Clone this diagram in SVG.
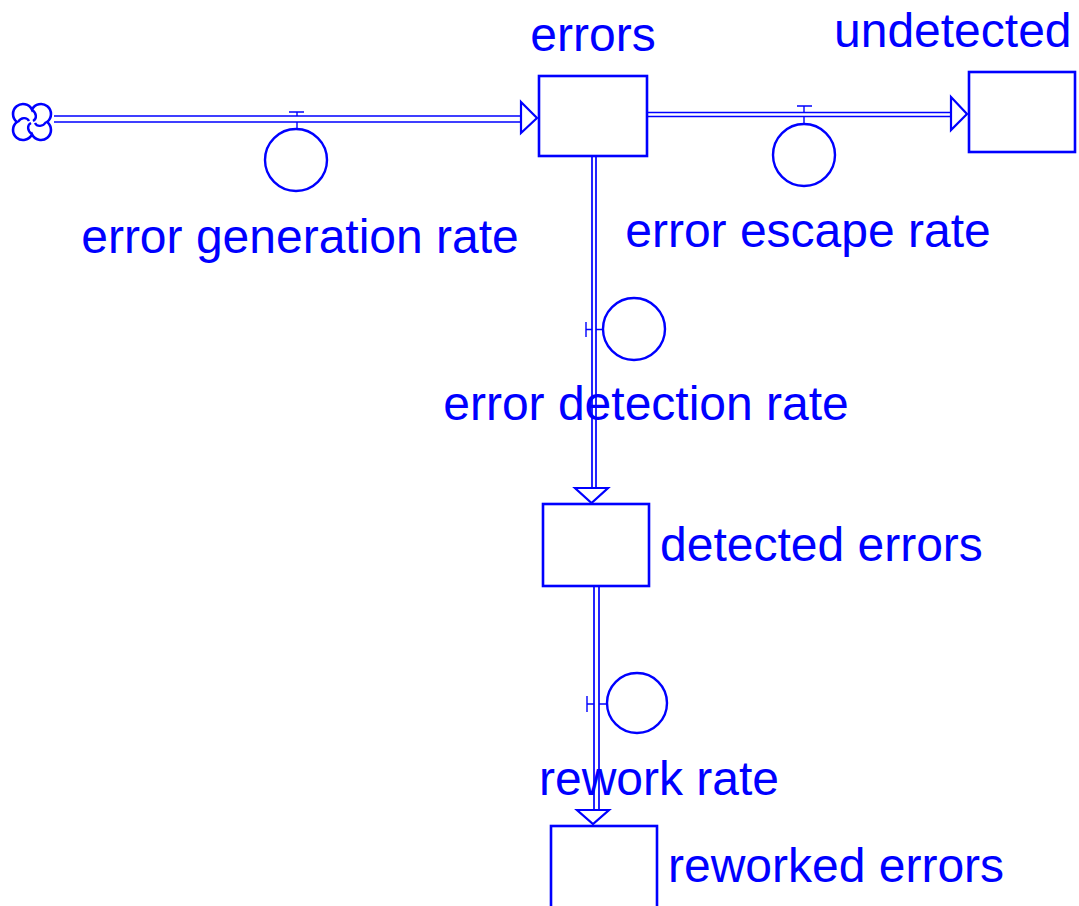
<svg xmlns="http://www.w3.org/2000/svg" width="1079" height="906" viewBox="0 0 1079 906">
<style>
.lbl{font-family:"Liberation Sans",Arial,sans-serif;font-size:48px;fill:#0000ff}
.stock{fill:#fff;stroke:#0000ff;stroke-width:2.6}
.aux{fill:#fff;stroke:#0000ff;stroke-width:2.4}
.pipe{stroke:#0000ff;stroke-width:1.7;fill:none}
.head{fill:#fff;stroke:#0000ff;stroke-width:2.2;stroke-linejoin:miter}
.tick{stroke:#0000ff;stroke-width:1.4;fill:none}
</style>
<rect width="1079" height="906" fill="#fff"/>
<g id="cloud">
<path d="M32,109.6 A10,10 0 1 1 47,122 A10,10 0 1 1 32,134.4 A10,10 0 1 1 17,122 A10,10 0 1 1 32,109.6 Z" fill="#fff" stroke="#0000ff" stroke-width="2.6"/>
<path d="M32,110 C37,113 37,119 33,121 M46,122 C43,127 37,127 35,123 M32,134 C27,131 27,125 31,123 M18,122 C21,117 27,117 29,121" fill="none" stroke="#0000ff" stroke-width="2.4"/>
</g>
<g id="labels">
<text class="lbl" x="593" y="51" text-anchor="middle">errors</text>
<text class="lbl" x="834" y="47">undetected</text>
<text class="lbl" x="300" y="253" text-anchor="middle">error generation rate</text>
<text class="lbl" x="808" y="247" text-anchor="middle">error escape rate</text>
<text class="lbl" x="646" y="420" text-anchor="middle">error detection rate</text>
<text class="lbl" x="660" y="561">detected errors</text>
<text class="lbl" x="659" y="795" text-anchor="middle">rework rate</text>
<text class="lbl" x="668" y="882">reworked errors</text>
</g>
<g id="connectors">
<path class="pipe" d="M54,116 H523 M54,122 H523"/>
<polygon class="head" points="521,102 537,118 521,133"/>
<path class="pipe" d="M647,112.5 H953 M647,116.5 H953"/>
<polygon class="head" points="951,97 967,114 951,130"/>
<path class="pipe" d="M592,156 V490 M596,156 V490"/>
<polygon class="head" points="575,488 608,488 591.5,503"/>
<path class="pipe" d="M594,586 V812 M599,586 V812"/>
<polygon class="head" points="577,810 609,810 593,824"/>
<path class="tick" d="M289,112 H304 M297,112 V116 M297,122 V129"/>
<path class="tick" d="M797,106 H812 M804,106 V112.5 M804,116.5 V123"/>
<path class="tick" d="M586,322 V337 M586,329.5 H592 M596,329.5 H603"/>
<path class="tick" d="M587,696 V712 M587,704 H594 M599,704 H606"/>
</g>
<g id="errors"><rect class="stock" x="539" y="76" width="108" height="80"/></g>
<g id="undetected"><rect class="stock" x="969" y="72" width="106" height="80"/></g>
<g id="detected_errors"><rect class="stock" x="543" y="504" width="106" height="82"/></g>
<g id="reworked_errors"><rect class="stock" x="551" y="826" width="106" height="90"/></g>
<g id="error_generation_rate"><circle class="aux" cx="296" cy="160" r="31"/></g>
<g id="error_escape_rate"><circle class="aux" cx="804" cy="155" r="31"/></g>
<g id="error_detection_rate"><circle class="aux" cx="634" cy="329" r="31"/></g>
<g id="rework_rate"><circle class="aux" cx="637" cy="703" r="30"/></g>
</svg>
